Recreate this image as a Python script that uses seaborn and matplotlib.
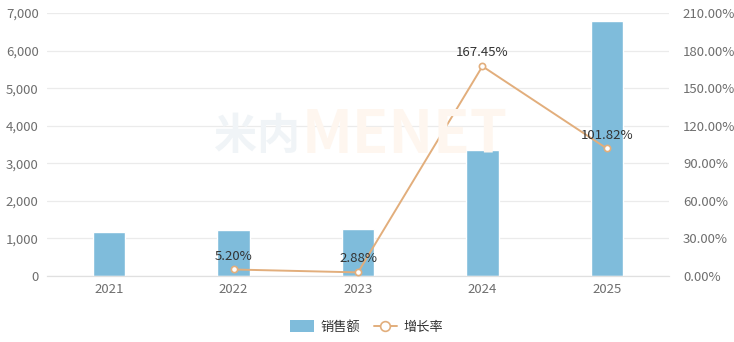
import matplotlib
matplotlib.use("Agg")
import matplotlib.pyplot as plt
from matplotlib.patches import Patch
from matplotlib.lines import Line2D
from matplotlib.ticker import FuncFormatter, MultipleLocator
import seaborn as sns
import pandas as pd

# Annual sales and year-on-year growth
years = ["2021", "2022", "2023", "2024", "2025"]
sales = [1160, 1220, 1255, 3357, 6775]
growth_years = ["2022", "2023", "2024", "2025"]
growth = [5.20, 2.88, 167.45, 101.82]
growth_labels = ["5.20%", "2.88%", "167.45%", "101.82%"]

bar_color = "#7FBCDB"
line_color = "#E2AE7C"
tick_color = "#6E6E6E"
grid_color = "#EBEBEB"

sns.set_theme(style="white")
plt.rcParams["font.family"] = ["Noto Sans CJK SC", "DejaVu Sans"]

fig = plt.figure(figsize=(7.34, 3.42), dpi=100)
ax = fig.add_axes([47 / 734, 1 - 276 / 342, 622 / 734, 263 / 342])

sales_df = pd.DataFrame({"year": years, "sales": sales})
sns.barplot(data=sales_df, x="year", y="sales", order=years, color=bar_color,
            saturation=1, width=0.26, ax=ax, zorder=2)

ax.set_ylim(0, 7000)
ax.yaxis.set_major_locator(MultipleLocator(1000))
ax.yaxis.set_major_formatter(FuncFormatter(lambda v, p: f"{v:,.0f}"))
ax.grid(axis="y", color=grid_color, linewidth=0.9, zorder=0)
ax.set_axisbelow(True)
for s in ["top", "right", "left"]:
    ax.spines[s].set_visible(False)
ax.spines["bottom"].set_color("#E0E0E0")
ax.spines["bottom"].set_linewidth(0.9)
ax.set_xlabel("")
ax.set_ylabel("")
ax.tick_params(axis="both", length=0, labelsize=9.5, colors=tick_color)
ax.tick_params(axis="y", pad=6)
ax.tick_params(axis="x", pad=5)

# Faint watermark behind the data
fig.text(300 / 734, 1 - 136 / 342, "米内", fontsize=31, fontweight="bold",
         color="#F0F4F7", ha="right", va="center", zorder=0)
fig.text(302 / 734, 1 - 136 / 342, "MENET", fontsize=43, fontweight="bold",
         color="#FEF6EF", ha="left", va="center", zorder=0)

ax2 = ax.twinx()
growth_df = pd.DataFrame({"year": growth_years, "growth": growth})
sns.pointplot(data=growth_df, x="year", y="growth", order=years, color=line_color,
              markers="o", markersize=4.5, markerfacecolor="white",
              markeredgecolor=line_color, markeredgewidth=1.2,
              linewidth=1.4, ax=ax2)
ax2.set_ylim(0, 210)
ax2.yaxis.set_major_locator(MultipleLocator(30))
ax2.yaxis.set_major_formatter(FuncFormatter(lambda v, p: f"{v:.2f}%"))
for s in ["top", "right", "left", "bottom"]:
    ax2.spines[s].set_visible(False)
ax2.set_ylabel("")
ax2.set_xlabel("")
ax2.tick_params(axis="y", length=0, labelsize=9.5, colors=tick_color, pad=10)
ax2.grid(False)

for yr, g, lbl in zip(growth_years, growth, growth_labels):
    ax2.annotate(lbl, (years.index(yr), g), xytext=(0, 5), textcoords="offset points",
                 ha="center", va="bottom", fontsize=9.5, color="#333333")

handles = [
    Patch(facecolor=bar_color, edgecolor="none", label="销售额"),
    Line2D([0], [0], color=line_color, linewidth=1.4, marker="o", markersize=7,
           markerfacecolor="white", markeredgecolor=line_color, markeredgewidth=1.2,
           label="增长率"),
]
fig.legend(handles=handles, loc="center", bbox_to_anchor=(0.5, 1 - 327 / 342),
           ncol=2, frameon=False, fontsize=9.5, labelcolor="#333333",
           handlelength=1.8, handleheight=1.0, columnspacing=1.0, handletextpad=0.5)

fig.savefig("out.png", dpi=100)
